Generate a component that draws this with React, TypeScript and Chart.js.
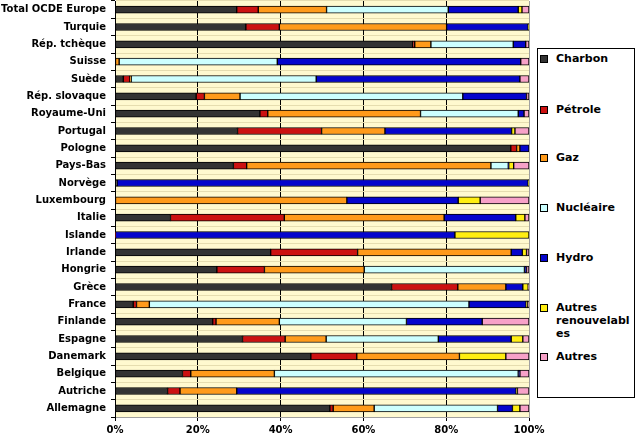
import React, { useEffect, useRef } from "react";
import { Chart, registerables } from "chart.js";

Chart.register(...registerables);

const categories = [
  "Total OCDE Europe", "Turquie", "Rép. tchèque", "Suisse", "Suède", "Rép. slovaque",
  "Royaume-Uni", "Portugal", "Pologne", "Pays-Bas", "Norvège", "Luxembourg",
  "Italie", "Islande", "Irlande", "Hongrie", "Grèce", "France",
  "Finlande", "Espagne", "Danemark", "Belgique", "Autriche", "Allemagne",
];

const charbon = [29.4, 31.6, 71.9, 0, 2.0, 19.6, 35.0, 29.6, 95.6, 28.6, 0.5, 0, 13.4, 0, 37.6, 24.6, 66.8, 4.4, 23.6, 30.8, 47.3, 16.3, 12.7, 51.9];
const petrole = [5.2, 8.1, 0.5, 0, 1.6, 2.0, 1.9, 20.3, 1.4, 3.2, 0, 0, 27.5, 0.1, 21.0, 11.5, 16.0, 0.8, 0.8, 10.3, 11.1, 2.0, 3.0, 0.8];
const gaz = [16.5, 40.4, 3.9, 1.0, 0.3, 8.6, 36.9, 15.3, 0.8, 59.0, 0, 56.0, 38.6, 0, 37.1, 24.1, 11.6, 3.1, 15.3, 9.9, 24.8, 20.2, 13.7, 9.9];
const nucleaire = [29.4, 0, 19.9, 38.2, 44.7, 53.8, 23.6, 0, 0, 4.2, 0, 0, 0, 0, 0, 38.7, 0, 77.2, 30.7, 27.1, 0, 58.9, 0, 29.8];
const hydro = [16.9, 19.7, 3.0, 58.8, 49.2, 15.4, 1.4, 30.6, 2.2, 0.1, 99.3, 26.9, 17.3, 82.0, 2.7, 0.5, 4.1, 13.8, 18.3, 17.6, 0, 0.4, 67.5, 3.6];
const autresRenouv = [0.9, 0.2, 0, 0, 0, 0, 0, 0.8, 0, 1.2, 0.2, 5.3, 2.2, 17.9, 1.0, 0, 1.3, 0.3, 0, 2.8, 11.2, 0, 0.3, 1.8];
const autres = [1.7, 0, 0.8, 2.0, 2.2, 0.6, 1.2, 3.4, 0, 3.7, 0, 11.8, 1.0, 0, 0.6, 0.6, 0.2, 0.4, 11.3, 1.5, 5.6, 2.2, 2.8, 2.2];

const xTicks = [0, 20, 40, 60, 80, 100];

const series = [
  { label: "Charbon", data: charbon, color: "#333333" },
  { label: "Pétrole", data: petrole, color: "#CC1111" },
  { label: "Gaz", data: gaz, color: "#FF9A1A" },
  { label: "Nucléaire", data: nucleaire, color: "#CCFFFF" },
  { label: "Hydro", data: hydro, color: "#0505CC" },
  { label: "Autres\nrenouvelabl\nes", data: autresRenouv, color: "#FFEE11" },
  { label: "Autres", data: autres, color: "#F7A1C8" },
];

const legendTops = [59, 110, 158, 208, 258, 308, 357];

const bgPlugin = {
  id: "plotBg",
  beforeDraw(chart: any) {
    const { ctx, chartArea } = chart;
    ctx.save();
    ctx.fillStyle = "#FFF9CF";
    ctx.fillRect(chartArea.left, chartArea.top, chartArea.right - chartArea.left, chartArea.bottom - chartArea.top);
    ctx.restore();
  },
};

export default function App() {
  const ref = useRef<HTMLCanvasElement>(null);

  useEffect(() => {
    if (!ref.current) return;
    const chart = new Chart(ref.current, {
      type: "bar",
      data: {
        labels: categories,
        datasets: series.map((s) => ({
          label: s.label,
          data: s.data,
          backgroundColor: s.color,
          borderColor: "#000000",
          borderWidth: 1,
          borderSkipped: false,
          barThickness: 7,
        })),
      },
      options: {
        indexAxis: "y",
        animation: false,
        responsive: false,
        maintainAspectRatio: false,
        layout: { padding: { top: 1, right: 111, bottom: 0, left: 0 } },
        plugins: {
          legend: { display: false },
          tooltip: { enabled: false },
        },
        scales: {
          x: {
            stacked: true,
            min: 0,
            max: 100,
            afterBuildTicks: (scale: any) => {
              scale.ticks = xTicks.map((v) => ({ value: v }));
            },
            afterFit: (scale: any) => {
              scale.height = 23;
            },
            ticks: {
              callback: (v: any) => v + "%",
              color: "#000",
              font: { family: "DejaVu Sans", weight: "bold", size: 10 },
              padding: 3,
              maxRotation: 0,
            },
            grid: {
              color: (c: any) => (c.tick && c.tick.value === 100 ? "#A0A0A0" : "#000"),
              tickColor: "#000",
              tickLength: 4,
              lineWidth: 1,
            },
            border: { color: "#A0A0A0" },
          },
          y: {
            stacked: true,
            afterFit: (scale: any) => {
              scale.width = 115;
              scale.paddingTop = 0;
              scale.paddingBottom = 0;
            },
            ticks: {
              color: "#000",
              font: { family: "DejaVu Sans", weight: "bold", size: 10 },
              padding: 5,
            },
            grid: {
              color: "#E6DDB0",
              tickColor: "#000",
              tickLength: 4,
              offset: true,
            },
            border: { color: "#000" },
          },
        },
      } as any,
      plugins: [bgPlugin],
    });
    return () => chart.destroy();
  }, []);

  return (
    <div style={{ position: "absolute", left: 0, top: 0, width: 640, height: 440, background: "#fff" }}>
      <canvas ref={ref} width={640} height={440} style={{ position: "absolute", left: 0, top: 0 }} />
      <div
        style={{
          position: "absolute",
          left: 537,
          top: 48,
          width: 98,
          height: 350,
          border: "1px solid #000",
          background: "#fff",
          boxSizing: "border-box",
        }}
      />
      {series.map((s, i) => (
        <div
          key={s.label}
          style={{
            position: "absolute",
            left: 540,
            top: legendTops[i] - 7,
            display: "flex",
            alignItems: "flex-start",
            fontFamily: "DejaVu Sans",
            fontWeight: "bold",
            fontSize: 11,
            lineHeight: "13px",
            color: "#000",
          }}
        >
          <span
            style={{
              display: "inline-block",
              width: 6,
              height: 6,
              background: s.color,
              border: "1px solid #000",
              marginTop: 3,
              marginRight: 8,
            }}
          />
          <span style={{ whiteSpace: "pre" }}>{s.label}</span>
        </div>
      ))}
    </div>
  );
}
